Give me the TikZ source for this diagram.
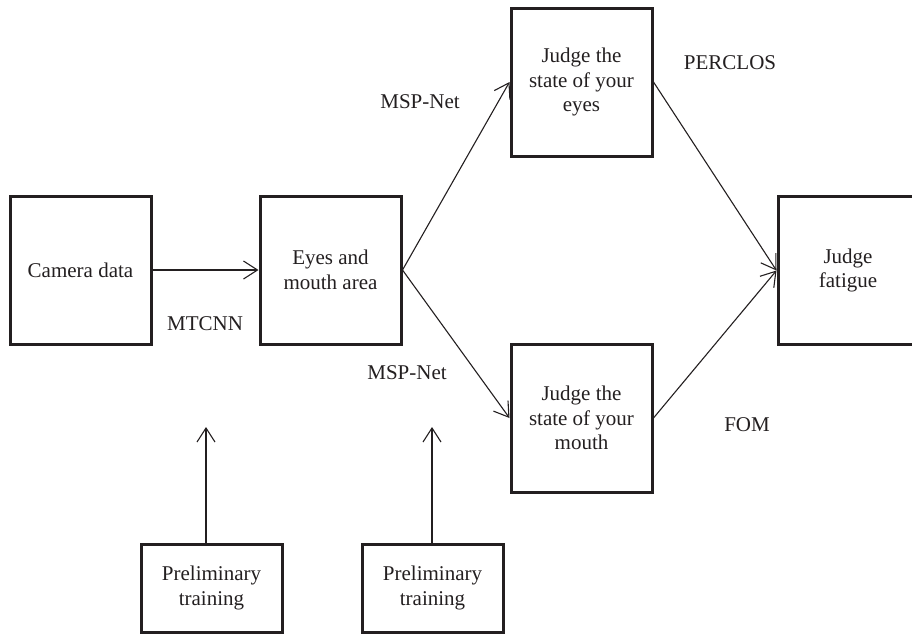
\documentclass[tikz,border=0pt]{standalone}
\usepackage{fontspec}
\setmainfont{Liberation Serif}
\usetikzlibrary{arrows.meta}
\definecolor{ink}{HTML}{231F20}
\begin{document}
\begin{tikzpicture}[x=1pt,y=-1pt,
  box/.style={draw=ink, line width=3pt, text=ink, align=center, inner sep=0pt,
    minimum width=141pt, minimum height=148pt, font=\fontsize{21}{24.5}\selectfont},
  smallbox/.style={box, minimum height=88pt},
  lab/.style={text=ink, font=\fontsize{21}{24.5}\selectfont, inner sep=0pt},
  conn/.style={draw=ink, line width=1.1pt, -{Straight Barb[length=14pt,width=18pt,line width=1.1pt]}}]
\useasboundingbox (0,0) rectangle (912,635);
\node[box] (cam) at (80.5,270) {Camera data};
\node[box] (eam) at (330.5,270) {Eyes and\\mouth area};
\node[box] (jeye) at (581.5,82) {Judge the\\state of your\\eyes};
\node[box] (jmouth) at (581.5,418) {Judge the\\state of your\\mouth};
\node[box, minimum width=140pt] (fat) at (848,270.5) {Judge\\fatigue};
\node[smallbox] (pt1) at (211.5,588) {Preliminary\\training};
\node[smallbox] (pt2) at (432.5,588) {Preliminary\\training};
\node[lab] (mtcnn) at (205,324) {MTCNN};
\node[lab] (msp1) at (420,102) {MSP-Net};
\node[lab] (msp2) at (407,373) {MSP-Net};
\node[lab] (perclos) at (730,63) {PERCLOS};
\node[lab] (fom) at (747,425) {FOM};
\coordinate (a1) at (206,427);
\coordinate (a2) at (432,427);
\draw[conn] (cam.east) -- (eam.west);
\draw[conn] (eam.east) -- (jeye.west);
\draw[conn] (eam.east) -- (jmouth.west);
\draw[conn] (jeye.east) -- (fat.west);
\draw[conn] (jmouth.east) -- (fat.west);
\draw[conn] (pt1.north -| a1) -- (a1);
\draw[conn] (pt2.north -| a2) -- (a2);
\end{tikzpicture}
\end{document}
